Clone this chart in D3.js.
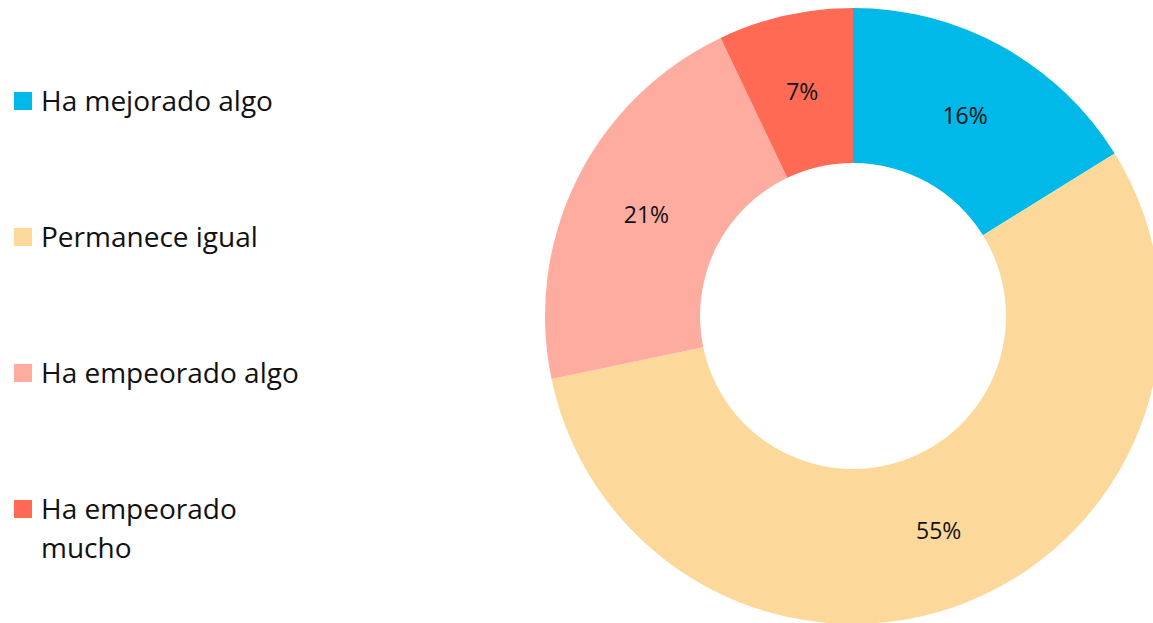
<!DOCTYPE html>
<html>
<head>
<meta charset="utf-8">
<script src="https://cdn.jsdelivr.net/npm/d3@7"></script>
<style>
  body { margin: 0; background: #fff; }
  svg { display: block; font-family: "Open Sans", "Noto Sans", sans-serif; }
</style>
</head>
<body>
<div id="chart"></div>
<script>
var categories = ['Ha mejorado algo', 'Permanece igual', 'Ha empeorado algo', 'Ha empeorado mucho']
var legendLines = [['Ha mejorado algo'], ['Permanece igual'], ['Ha empeorado algo'], ['Ha empeorado', 'mucho']]
var values = [16, 55, 21, 7]
var colors = ['#00b9e8', '#fcd99b', '#fdac9f', '#ff6a55']

var W = 1153, H = 623
var svg = d3.select('#chart').append('svg').attr('width', W).attr('height', H)

var cx = 853, cy = 316, outerR = 308, innerR = 153
var pie = d3.pie().sort(null).value(function(d){ return d; })
var arc = d3.arc().innerRadius(innerR).outerRadius(outerR)

var g = svg.append('g').attr('transform', 'translate(' + cx + ',' + cy + ')')
var arcs = pie(values)
g.selectAll('path').data(arcs).enter().append('path')
  .attr('d', arc)
  .attr('fill', function(d, i){ return colors[i]; })

g.selectAll('text').data(arcs).enter().append('text')
  .attr('x', function(d){ return arc.centroid(d)[0]; })
  .attr('y', function(d){ return arc.centroid(d)[1] + 1; })
  .attr('dy', '0.35em')
  .attr('text-anchor', 'middle')
  .attr('font-size', '23px')
  .attr('fill', '#111')
  .text(function(d){ return d.data + '%'; })

// legend
var legendY = d3.scalePoint().domain(categories).range([101, 509])
var leg = svg.append('g').selectAll('g').data(categories).enter().append('g')
  .attr('transform', function(d){ return 'translate(0,' + legendY(d) + ')'; })
leg.append('rect')
  .attr('x', 14).attr('y', -9).attr('width', 18).attr('height', 18)
  .attr('fill', function(d, i){ return colors[i]; })
leg.append('text')
  .attr('x', 41).attr('y', 0)
  .attr('font-size', '28px')
  .attr('fill', '#111')
  .selectAll('tspan').data(function(d, i){ return legendLines[i]; }).enter().append('tspan')
  .attr('x', 41)
  .attr('dy', function(d, j){ return j === 0 ? '0.35em' : '39px'; })
  .text(function(d){ return d; })
</script>
</body>
</html>
